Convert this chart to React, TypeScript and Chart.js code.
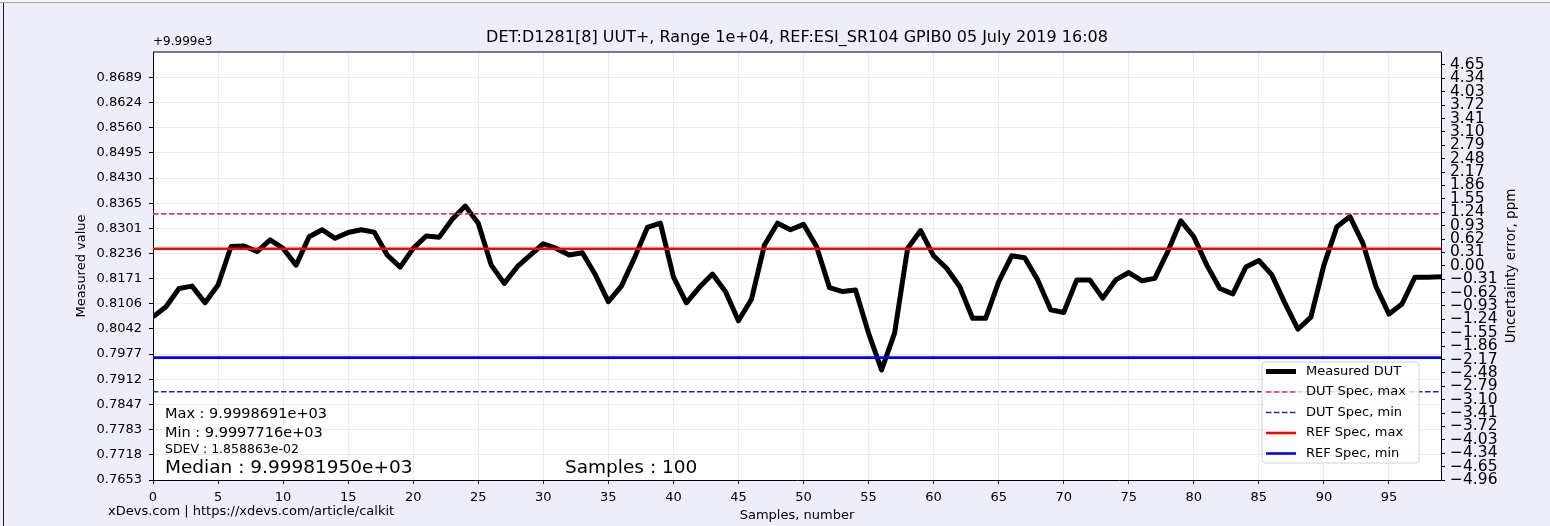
import React, { useEffect, useRef } from 'react';
import { Chart, registerables } from 'chart.js';

Chart.register(...registerables);

const FONT = "'DejaVu Sans', 'Liberation Sans', sans-serif";
const W = 1550;
const H = 526;

// Measured values, shown relative to the +9.999e3 offset
const measuredOffset = [
  0.8073, 0.8099, 0.8146, 0.8152, 0.8109, 0.8155, 0.8254, 0.8255, 0.8241, 0.8271,
  0.8249, 0.8206, 0.8279, 0.8297, 0.8275, 0.8290, 0.8297, 0.8291, 0.8232, 0.8201,
  0.8249, 0.8281, 0.8278, 0.8324, 0.8358, 0.8314, 0.8206, 0.8159, 0.8202, 0.8232,
  0.8261, 0.8249, 0.8232, 0.8238, 0.8181, 0.8112, 0.8152, 0.8224, 0.8303, 0.8314,
  0.8176, 0.8109, 0.8149, 0.8183, 0.8138, 0.8063, 0.8118, 0.8258, 0.8314, 0.8297,
  0.8311, 0.8254, 0.8148, 0.8138, 0.8142, 0.8031, 0.7936, 0.8031, 0.8249, 0.8295,
  0.8230, 0.8198, 0.8151, 0.8069, 0.8069, 0.8163, 0.8230, 0.8225, 0.8168, 0.8091,
  0.8084, 0.8168, 0.8168, 0.8121, 0.8168, 0.8187, 0.8166, 0.8172, 0.8241, 0.8320,
  0.8279, 0.8206, 0.8146, 0.8132, 0.8201, 0.8218, 0.8181, 0.8108, 0.8041, 0.8072,
  0.8206, 0.8305, 0.8331, 0.8262, 0.8151, 0.8080, 0.8106, 0.8175, 0.8175, 0.8176,
];

const dutSpecMax = 0.8338;
const dutSpecMin = 0.7880;
const refSpecMax = 0.8248;
const refSpecMin = 0.7968;

const leftTickValues = [
  0.7653, 0.7718, 0.7783, 0.7847, 0.7912, 0.7977, 0.8042, 0.8106, 0.8171,
  0.8236, 0.8301, 0.8365, 0.8430, 0.8495, 0.8560, 0.8624, 0.8689,
];
const leftMin = 0.7653;
const leftMax = 0.87545;

const rightTickValues = [
  -4.96, -4.65, -4.34, -4.03, -3.72, -3.41, -3.10, -2.79, -2.48, -2.17, -1.86,
  -1.55, -1.24, -0.93, -0.62, -0.31, 0.0, 0.31, 0.62, 0.93, 1.24, 1.55, 1.86,
  2.17, 2.48, 2.79, 3.10, 3.41, 3.72, 4.03, 4.34, 4.65,
];
const rightMin = -4.96;
const rightMax = 4.95;

const xTickValues = [0, 5, 10, 15, 20, 25, 30, 35, 40, 45, 50, 55, 60, 65, 70, 75, 80, 85, 90, 95];

const titleText = 'DET:D1281[8] UUT+, Range 1e+04, REF:ESI_SR104 GPIB0 05 July 2019 16:08';
const offsetText = '+9.999e3';
const leftAxisTitle = 'Measured value';
const rightAxisTitle = 'Uncertainty error, ppm';
const xAxisTitle = 'Samples, number';
const footerText = 'xDevs.com | https://xdevs.com/article/calkit';
const statMax = 'Max : 9.9998691e+03';
const statMin = 'Min : 9.9997716e+03';
const statSdev = 'SDEV : 1.858863e-02';
const statMedian = 'Median : 9.99981950e+03';
const statSamples = 'Samples : 100';

const decoPlugin = {
  id: 'deco',
  beforeDraw(chart: any) {
    const { ctx, chartArea: a } = chart;
    ctx.save();
    ctx.fillStyle = '#eeeefb';
    ctx.fillRect(0, 0, W, H);
    ctx.fillStyle = '#f6f6f6';
    ctx.fillRect(0, 0, W, 2);
    ctx.fillStyle = '#a4a4a4';
    ctx.fillRect(0, 2, W, 1);
    ctx.fillStyle = '#1a1a1a';
    ctx.fillRect(3, 3, 1, H - 3);
    ctx.fillStyle = '#ffffff';
    ctx.fillRect(a.left, a.top, a.right - a.left, a.bottom - a.top);
    ctx.restore();
  },
  afterDraw(chart: any) {
    const { ctx, chartArea: a } = chart;
    ctx.save();
    // top spine
    ctx.fillStyle = '#000';
    ctx.fillRect(a.left, a.top - 0.5, a.right - a.left + 0.5, 1);

    ctx.fillStyle = '#000';
    ctx.textBaseline = 'middle';

    // title
    ctx.font = `16px ${FONT}`;
    ctx.textAlign = 'center';
    ctx.fillText(titleText, (a.left + a.right) / 2, 38);

    // offset text
    ctx.font = `12px ${FONT}`;
    ctx.textAlign = 'left';
    ctx.fillText(offsetText, a.left, 42);

    // x axis title
    ctx.font = `13px ${FONT}`;
    ctx.textAlign = 'center';
    ctx.fillText(xAxisTitle, (a.left + a.right) / 2, 516);

    // footer
    ctx.textAlign = 'left';
    ctx.fillText(footerText, 108, 512);

    // rotated axis titles
    const midY = (a.top + a.bottom) / 2;
    ctx.save();
    ctx.translate(82, midY);
    ctx.rotate(-Math.PI / 2);
    ctx.textAlign = 'center';
    ctx.fillText(leftAxisTitle, 0, 0);
    ctx.restore();
    ctx.save();
    ctx.translate(1511, midY);
    ctx.rotate(-Math.PI / 2);
    ctx.textAlign = 'center';
    ctx.font = `13.5px ${FONT}`;
    ctx.fillText(rightAxisTitle, 0, 0);
    ctx.restore();

    // stats
    ctx.textAlign = 'left';
    ctx.font = `14.5px ${FONT}`;
    ctx.fillText(statMax, 165, 414);
    ctx.fillText(statMin, 165, 433);
    ctx.font = `12.5px ${FONT}`;
    ctx.fillText(statSdev, 165, 450);
    ctx.font = `18.5px ${FONT}`;
    ctx.fillText(statMedian, 165, 468);
    ctx.fillText(statSamples, 565, 468);

    // legend
    const lx = 1262, ly = 362, lw = 157, lh = 101;
    ctx.beginPath();
    const r = 3;
    ctx.moveTo(lx + r, ly);
    ctx.lineTo(lx + lw - r, ly);
    ctx.quadraticCurveTo(lx + lw, ly, lx + lw, ly + r);
    ctx.lineTo(lx + lw, ly + lh - r);
    ctx.quadraticCurveTo(lx + lw, ly + lh, lx + lw - r, ly + lh);
    ctx.lineTo(lx + r, ly + lh);
    ctx.quadraticCurveTo(lx, ly + lh, lx, ly + lh - r);
    ctx.lineTo(lx, ly + r);
    ctx.quadraticCurveTo(lx, ly, lx + r, ly);
    ctx.closePath();
    ctx.fillStyle = 'rgba(255,255,255,0.8)';
    ctx.fill();
    ctx.strokeStyle = '#d0d0d0';
    ctx.lineWidth = 1;
    ctx.stroke();

    const ds = chart.data.datasets;
    ctx.font = `13px ${FONT}`;
    ds.forEach((d: any, i: number) => {
      const y = 371.5 + i * 20.5;
      ctx.beginPath();
      ctx.setLineDash(d.borderDash || []);
      ctx.strokeStyle = d.borderColor;
      ctx.lineWidth = d.borderWidth;
      ctx.moveTo(1266, y);
      ctx.lineTo(1296, y);
      ctx.stroke();
      ctx.setLineDash([]);
      ctx.fillStyle = '#000';
      ctx.textAlign = 'left';
      ctx.fillText(d.label, 1306, y);
    });
    ctx.restore();
  },
};

export default function App() {
  const ref = useRef<HTMLCanvasElement>(null);
  useEffect(() => {
    document.body.style.margin = '0';
    const canvas = ref.current;
    if (!canvas) return;
    const last = measuredOffset.length - 1;
    const flat = (v: number) => [{ x: 0, y: v }, { x: last, y: v }];
    const tickFont = { family: FONT, size: 13 };
    const chart = new Chart(canvas, {
      type: 'line',
      data: {
        datasets: [
          {
            label: 'Measured DUT',
            data: measuredOffset.map((v, i) => ({ x: i, y: v })),
            borderColor: '#000000',
            borderWidth: 5,
            borderJoinStyle: 'round',
            pointRadius: 0,
            tension: 0,
            fill: false,
            order: 5,
            yAxisID: 'y',
          },
          {
            label: 'DUT Spec, max',
            data: flat(dutSpecMax),
            borderColor: '#f0306a',
            borderWidth: 1.6,
            borderDash: [5.5, 2.5],
            pointRadius: 0,
            fill: false,
            order: 1,
            yAxisID: 'y',
          },
          {
            label: 'DUT Spec, min',
            data: flat(dutSpecMin),
            borderColor: '#1f2a8e',
            borderWidth: 1.6,
            borderDash: [5.5, 2.5],
            pointRadius: 0,
            fill: false,
            order: 1,
            yAxisID: 'y',
          },
          {
            label: 'REF Spec, max',
            data: flat(refSpecMax),
            borderColor: '#ff0000',
            borderWidth: 2.6,
            pointRadius: 0,
            fill: false,
            order: 1,
            yAxisID: 'y',
          },
          {
            label: 'REF Spec, min',
            data: flat(refSpecMin),
            borderColor: '#0000ff',
            borderWidth: 2.6,
            pointRadius: 0,
            fill: false,
            order: 1,
            yAxisID: 'y',
          },
        ],
      } as any,
      options: {
        animation: false,
        responsive: false,
        maintainAspectRatio: false,
        devicePixelRatio: 1,
        layout: { padding: { top: 52, left: 0, right: 0, bottom: 0 } },
        plugins: {
          legend: { display: false },
          title: { display: false },
          tooltip: { enabled: false },
        },
        scales: {
          x: {
            type: 'linear',
            min: 0,
            max: last,
            afterBuildTicks: (s: any) => {
              s.ticks = xTickValues.map((value) => ({ value }));
            },
            afterFit: (s: any) => {
              s.height = 46;
            },
            ticks: {
              autoSkip: false,
              maxRotation: 0,
              color: '#000',
              font: tickFont,
              padding: 6,
              callback: (v: any) => String(v),
            },
            grid: { color: '#ebebeb', lineWidth: 1, tickLength: 4, tickColor: '#000' },
            border: { color: '#000', width: 1 },
          },
          y: {
            type: 'linear',
            position: 'left',
            min: leftMin,
            max: leftMax,
            afterBuildTicks: (s: any) => {
              s.ticks = leftTickValues.map((value) => ({ value }));
            },
            afterFit: (s: any) => {
              s.width = 153;
            },
            ticks: {
              autoSkip: false,
              color: '#000',
              font: tickFont,
              padding: 7,
              callback: (v: any) => Number(v).toFixed(4),
            },
            grid: { color: '#ebebeb', lineWidth: 1, tickLength: 4, tickColor: '#000' },
            border: { color: '#000', width: 1 },
          },
          y2: {
            type: 'linear',
            position: 'right',
            min: rightMin,
            max: rightMax,
            afterBuildTicks: (s: any) => {
              s.ticks = rightTickValues.map((value) => ({ value }));
            },
            afterFit: (s: any) => {
              s.width = 109;
            },
            ticks: {
              autoSkip: false,
              color: '#000',
              font: { family: FONT, size: 15.5 },
              padding: 5,
              callback: (v: any) => {
                const n = Number(v);
                const t = Math.abs(n).toFixed(2);
                return n < -0.0001 ? '\u2212' + t : t;
              },
            },
            grid: { drawOnChartArea: false, tickLength: 4, tickColor: '#000' },
            border: { color: '#000', width: 1 },
          },
        },
      } as any,
      plugins: [decoPlugin],
    });
    return () => chart.destroy();
  }, []);
  return (
    <div style={{ position: 'fixed', left: 0, top: 0, width: W, height: H }}>
      <canvas ref={ref} width={W} height={H} style={{ display: 'block', width: W, height: H }} />
    </div>
  );
}
